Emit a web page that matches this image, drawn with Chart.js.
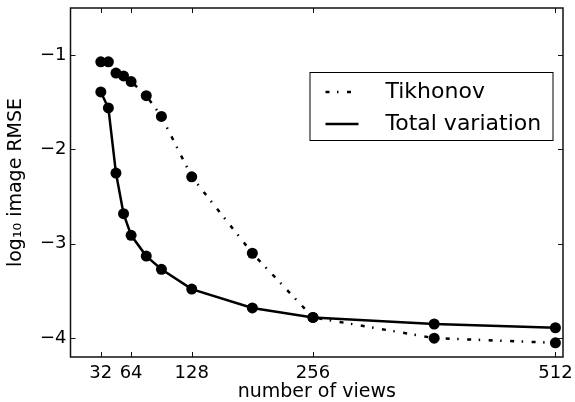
<!DOCTYPE html>
<html>
<head>
<meta charset="utf-8">
<script src="https://cdn.jsdelivr.net/npm/chart.js@4.4.1/dist/chart.umd.min.js"></script>
<style>
  body { margin: 0; background: #fff; }
  #wrap { width: 575px; height: 402px; }
</style>
</head>
<body>
<div id="wrap"><canvas id="rmseChart" width="575" height="402"></canvas></div>
<script>
// number of projection views and log10 RMSE for each method
const views = [32, 40, 48, 56, 64, 80, 96, 128, 192, 256, 384, 512];
const tikhonov = [-1.07, -1.07, -1.19, -1.22, -1.28, -1.43, -1.65, -2.29, -3.10, -3.78, -4.00, -4.05];
const totalVariation = [-1.39, -1.56, -2.25, -2.68, -2.91, -3.13, -3.27, -3.48, -3.68, -3.78, -3.85, -3.89];

const xTicks = [32, 64, 128, 256, 512];
const yTicks = [-4, -3, -2, -1];
const seriesNames = ['Tikhonov', 'Total variation'];

const FONT = 'DejaVu Sans';
const dashDot = [4, 7.5, 1.5, 8.5];

const toPoints = ys => views.map((v, i) => ({ x: v, y: ys[i] }));

// box around the plot plus inward ticks on all four sides
const frameTicks = {
  id: 'frameTicks',
  afterDatasetsDraw(chart) {
    const { ctx, chartArea: a, scales: { x, y } } = chart;
    const len = 5;
    ctx.save();
    ctx.strokeStyle = '#111';
    ctx.lineWidth = 1;
    ctx.beginPath();
    x.ticks.forEach(t => {
      const px = Math.round(x.getPixelForValue(t.value)) + 0.5;
      ctx.moveTo(px, a.bottom); ctx.lineTo(px, a.bottom - len);
      ctx.moveTo(px, a.top); ctx.lineTo(px, a.top + len);
    });
    y.ticks.forEach(t => {
      const py = Math.round(y.getPixelForValue(t.value)) + 0.5;
      ctx.moveTo(a.left, py); ctx.lineTo(a.left + len, py);
      ctx.moveTo(a.right, py); ctx.lineTo(a.right - len, py);
    });
    ctx.stroke();
    ctx.lineWidth = 1.5;
    ctx.strokeRect(a.left, a.top, a.right - a.left, a.bottom - a.top);
    ctx.restore();
  }
};

// legend box in the upper right of the plot
const boxLegend = {
  id: 'boxLegend',
  afterDraw(chart) {
    const { ctx, chartArea: a } = chart;
    const bx = a.left + 239, by = a.top + 64, bw = 243, bh = 68;
    ctx.save();
    ctx.fillStyle = '#fff';
    ctx.fillRect(bx, by, bw, bh);
    ctx.strokeStyle = '#000';
    ctx.lineWidth = 1;
    ctx.strokeRect(bx + 0.5, by + 0.5, bw, bh);
    chart.data.datasets.forEach((ds, i) => {
      const ly = by + 20 + i * 32;
      ctx.beginPath();
      ctx.setLineDash(ds.borderDash || []);
      ctx.lineWidth = ds.borderWidth;
      ctx.strokeStyle = ds.borderColor;
      ctx.moveTo(bx + 16, ly);
      ctx.lineTo(bx + 49, ly);
      ctx.stroke();
      ctx.setLineDash([]);
      ctx.fillStyle = '#000';
      ctx.font = '22px "' + FONT + '"';
      ctx.textBaseline = 'middle';
      ctx.fillText(ds.label, bx + 76, ly);
    });
    ctx.restore();
  }
};

new Chart(document.getElementById('rmseChart'), {
  type: 'line',
  data: {
    datasets: [
      {
        label: seriesNames[0],
        data: toPoints(tikhonov),
        borderColor: '#000',
        backgroundColor: '#000',
        borderWidth: 2.5,
        borderDash: dashDot,
        pointRadius: 5.5,
        pointBorderWidth: 0,
        tension: 0
      },
      {
        label: seriesNames[1],
        data: toPoints(totalVariation),
        borderColor: '#000',
        backgroundColor: '#000',
        borderWidth: 2.5,
        pointRadius: 5.5,
        pointBorderWidth: 0,
        tension: 0
      }
    ]
  },
  options: {
    responsive: false,
    animation: false,
    layout: { padding: { left: 0, top: 8, right: 12, bottom: 0 } },
    plugins: { legend: { display: false }, tooltip: { enabled: false } },
    scales: {
      x: {
        type: 'linear',
        min: 0,
        max: 520,
        grid: { display: false, drawTicks: false },
        border: { display: false },
        afterBuildTicks: s => { s.ticks = xTicks.map(v => ({ value: v })); },
        afterFit: s => { s.height = 45; s.paddingLeft = 0; s.paddingRight = 0; },
        ticks: {
          autoSkip: false,
          maxRotation: 0,
          padding: 6,
          color: '#000',
          font: { family: FONT, size: 18 },
          callback: v => String(v)
        },
        title: {
          display: true,
          text: 'number of views',
          color: '#000',
          font: { family: FONT, size: 19, lineHeight: 1 },
          padding: { top: 0, bottom: 0 }
        }
      },
      y: {
        min: -4.2,
        max: -0.5,
        grid: { display: false, drawTicks: false },
        border: { display: false },
        afterBuildTicks: s => { s.ticks = yTicks.map(v => ({ value: v })); },
        afterFit: s => { s.width = 70.5; s.paddingTop = 0; s.paddingBottom = 0; },
        ticks: {
          autoSkip: false,
          padding: 4,
          color: '#000',
          font: { family: FONT, size: 18 },
          callback: v => (v < 0 ? '\u2212' : '') + Math.abs(v)
        },
        title: {
          display: true,
          text: 'log\u2081\u2080 image RMSE',
          color: '#000',
          font: { family: FONT, size: 19, lineHeight: 1 },
          padding: { top: 7, bottom: 0 }
        }
      }
    }
  },
  plugins: [frameTicks, boxLegend]
});
</script>
</body>
</html>
